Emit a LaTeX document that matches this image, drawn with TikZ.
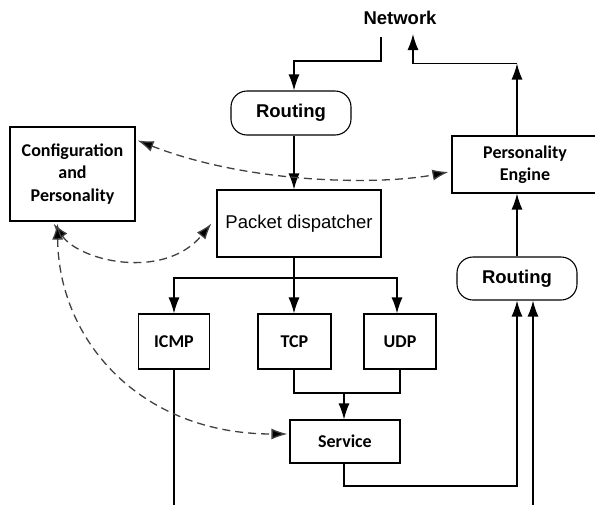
\documentclass[tikz,border=0pt]{standalone}
\usepackage{fontspec}
\setmainfont{Carlito}
\newfontfamily\carlito{Carlito}
\newfontfamily\arialfont{Liberation Sans}
\usetikzlibrary{arrows.meta,calc}
\begin{document}
\begin{tikzpicture}[x=1pt,y=-1pt,
  box/.style={draw=black, line width=1.1pt, fill=white, inner sep=0pt, align=center,
    font=\carlito\bfseries\fontsize{18}{22.5}\selectfont},
  rbox/.style={box, rounded corners=16pt, font=\arialfont\bfseries\fontsize{18.5}{22}\selectfont},
  conn/.style={line width=1.3pt, -{Latex[length=16pt,width=11pt]}},
  plain/.style={line width=1.3pt},
  dashconn/.style={line width=1.3pt, draw=black!75, dash pattern=on 8pt off 5pt,
    {Latex[length=16pt,width=11pt,fill=black]}-{Latex[length=16pt,width=11pt,fill=black]}}
]
\useasboundingbox (0,0) rectangle (595,504);
\fill[white] (0,0) rectangle (595,504);

% nodes
\node[font=\arialfont\bfseries\fontsize{18.5}{22}\selectfont] (network) at (400,18) {Network};
\node[rbox, minimum width=120pt, minimum height=44pt] (routingA) at (291,113) {Routing};
\node[box, minimum width=125pt, minimum height=94pt] (config) at (72.5,174) {Configuration\\and\\Personality};
\node[box, minimum width=146pt, minimum height=57pt] (pe) at (525,164.5) {Personality\\Engine};
\node[box, minimum width=164pt, minimum height=67pt, font=\arialfont\fontsize{18.5}{22}\selectfont] (pd) at (299,223.5) {Packet dispatcher};
\node[rbox, minimum width=120pt, minimum height=43pt] (routingB) at (517,278.5) {Routing};
\node[box, minimum width=71pt, minimum height=55pt] (icmp) at (174,341.5) {ICMP};
\node[box, minimum width=73pt, minimum height=55pt] (tcp) at (294.5,341.5) {TCP};
\node[box, minimum width=72pt, minimum height=55pt] (udp) at (400,341.5) {UDP};
\node[box, minimum width=110pt, minimum height=43pt] (service) at (345,441.5) {Service};

% helper coordinates
\coordinate (netout) at (381,37);
\coordinate (bend1) at (381,61);
\coordinate (netin) at (413,34);
\coordinate (bend2) at (517,63.5);
\coordinate (split) at (294,278);
\coordinate (merge) at (344,393);
\coordinate (sbend) at (517,486);
\coordinate (icmpend) at (174,508);
\coordinate (extin) at (533,508);

% solid connectors
\draw[conn] (netout) -- (bend1) -| (routingA.north -| split);
\draw[conn] (routingA.south -| split) -- (pd.north -| split);
\draw[conn] (pe.north -| routingB) -- (bend2);
\draw[conn] (bend2) -| (netin);
\draw[conn] (routingB.north) -- (pe.south -| routingB);
\draw[plain] (pd.south -| split) -- (split);
\draw[conn] (split) -| (icmp.north);
\draw[conn] (split) -- (tcp.north -| split);
\draw[conn] (split) -| ([xshift=-3pt]udp.north);
\draw[plain] (tcp.south -| split) |- (udp.south |- merge) -- (udp.south);
\draw[conn] (merge) -- (service.north -| merge);
\draw[conn] (service.south -| merge) |- (sbend) -- (routingB.south);
\draw[plain] (icmp.south) -- (icmpend);
\draw[conn] (extin) -- (extin |- routingB.south);

% dashed connectors
\draw[dashconn] ($(config.north east)+(2,14)$) .. controls +(113,44) and +(-68,13) .. ($(pe.west)+(-3,7.5)$);
\draw[dashconn] ($(config.south)+(-19,2)$) .. controls +(27,38) and +(-47,57) .. ($(pd.west)+(-5,0)$);
\draw[dashconn] ($(config.south)+(-15,2)$) .. controls +(1,117) and +(-147,0) .. ($(service.west)+(-2,-7.5)$);
\end{tikzpicture}
\end{document}
